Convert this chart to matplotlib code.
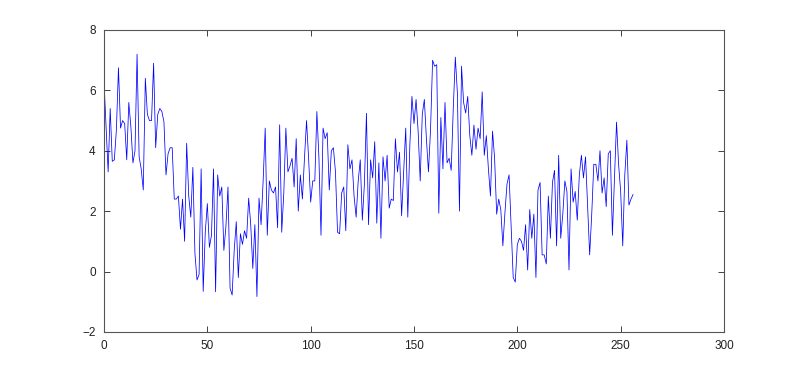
import matplotlib
matplotlib.use("Agg")
import matplotlib.pyplot as plt
import numpy as np

# valeurs (indices 0..256)
signal = [
    6.3, 4.8, 3.3, 5.4, 3.65, 3.7, 4.7, 6.75, 4.75, 5.0,
    4.9, 3.7, 5.6, 4.8, 3.6, 4.0, 7.2, 3.8, 3.4, 2.7,
    6.4, 5.2, 5.0, 5.0, 6.9, 4.1, 5.2, 5.4, 5.3, 4.96,
    3.2, 3.9, 4.1, 4.1, 2.4, 2.4, 2.5, 1.4, 2.4, 1.0,
    4.25, 2.5, 1.8, 3.45, 0.6, -0.28, -0.1, 3.4, -0.66, 1.3,
    2.25, 0.8, 1.2, 3.4, -0.67, 3.2, 2.5, 2.8, 0.7, 1.5,
    2.8, -0.55, -0.78, 0.7, 1.65, -0.2, 1.25, 0.9, 1.35, 1.1,
    2.43, 1.55, 0.1, 1.55, -0.83, 2.43, 1.55, 3.0, 4.75, 1.2,
    3.0, 2.7, 2.6, 2.8, 1.45, 4.86, 1.3, 2.6, 4.75, 3.3,
    3.5, 3.75, 2.8, 4.4, 2.0, 3.2, 2.4, 3.75, 5.0, 3.75,
    2.3, 3.0, 3.0, 5.3, 3.75, 1.2, 4.75, 4.4, 4.6, 2.7,
    4.0, 4.1, 3.3, 1.3, 1.25, 2.6, 2.8, 1.35, 4.2, 3.4,
    3.7, 2.5, 1.8, 3.0, 3.7, 1.7, 2.9, 5.24, 1.55, 3.7,
    3.1, 4.3, 1.6, 3.6, 1.1, 3.8, 3.0, 3.85, 2.1, 2.4,
    2.35, 4.4, 3.3, 3.95, 1.85, 3.3, 4.75, 1.8, 4.2, 5.8,
    4.9, 5.7, 4.65, 3.0, 5.2, 5.7, 4.4, 3.3, 4.7, 7.0,
    6.8, 6.85, 1.93, 5.1, 3.4, 5.6, 3.6, 3.75, 3.35, 5.4,
    7.1, 5.9, 2.0, 6.8, 5.6, 5.25, 5.8, 4.5, 3.85, 4.85,
    4.05, 4.75, 4.4, 5.95, 3.85, 4.5, 3.4, 2.5, 4.65, 3.75,
    1.9, 2.4, 2.05, 0.85, 1.95, 2.9, 3.2, 1.5, -0.2, -0.35,
    0.9, 1.1, 1.0, 0.7, 1.55, 0.05, 2.05, 1.1, 1.9, -0.2,
    2.7, 2.95, 0.55, 0.55, 0.25, 2.5, 1.1, 2.95, 3.35, 0.85,
    3.85, 1.1, 1.9, 3.0, 2.65, 0.05, 3.4, 2.3, 2.65, 1.7,
    3.2, 3.85, 3.1, 3.8, 2.2, 0.55, 1.9, 3.55, 3.55, 3.0,
    4.0, 2.6, 3.1, 2.15, 3.9, 4.0, 1.2, 3.1, 4.95, 3.55,
    2.65, 0.85, 3.2, 4.35, 2.2, 2.4, 2.55,
]
x_ticks = [0, 50, 100, 150, 200, 250, 300]
y_ticks = [-2, 0, 2, 4, 6, 8]

plt.rcParams['font.family'] = ['Liberation Sans', 'DejaVu Sans']

fig = plt.figure(figsize=(8, 3.75), dpi=100)
ax = fig.add_axes([0.13, 0.115, 0.775, 0.805])

x_axis = np.arange(len(signal))
ax.plot(x_axis, signal, color='#0000ff', linewidth=0.55)

ax.set_xlim(0, 300)
ax.set_ylim(-2, 8)
ax.set_xticks(x_ticks)
ax.set_yticks(y_ticks)

for side in ax.spines.values():
    side.set_color('#555555')
    side.set_linewidth(0.8)
ax.tick_params(direction='in', length=4, width=0.6, colors='#222222',
               top=True, right=True, labelsize=8.5, pad=6)

fig.savefig('out.png', dpi=100)
